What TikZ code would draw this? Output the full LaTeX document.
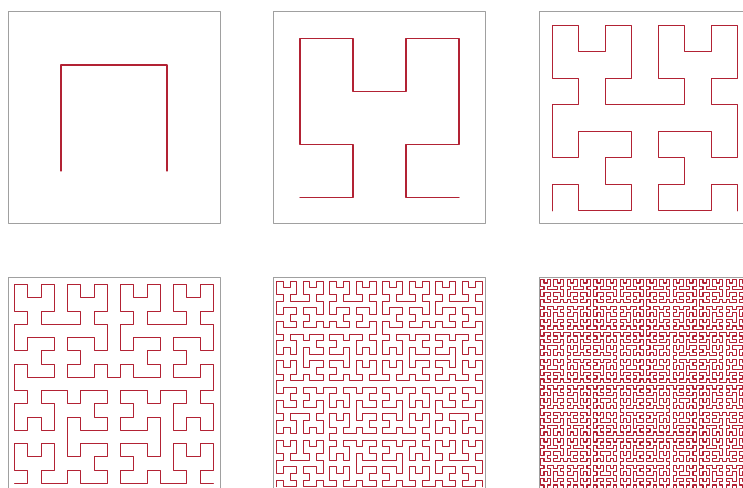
\documentclass[tikz,border=0pt]{standalone}
\usetikzlibrary{lindenmayersystems}
\definecolor{curvered}{RGB}{178,34,52}
\definecolor{framegray}{RGB}{160,160,160}
\pgfdeclarelindenmayersystem{Hilbert}{
	\rule{A -> +BF-AFA-FB+}
	\rule{B -> -AF+BFB+FA-}
}
\begin{document}
\begin{tikzpicture}[x=1pt,y=1pt, line join=round, line cap=round,
	frame/.style={draw=framegray, line width=1pt},
	hilbert/.style={color=curvered, line width=1.1pt}]
	\clip (0,0) rectangle (743,487);
	\foreach \n/\bx/\by in {1/8/263, 2/273.5/263, 3/539/263, 4/8/-3, 5/273.5/-3, 6/539/-3}{
		\pgfmathsetmacro\c{212/2^\n}
		\draw[frame] (\bx,\by) rectangle ++(212,212);
		\draw[hilbert, shift={(\bx+\c/2, \by+\c/2)},
			l-system={Hilbert, axiom=A, order=\n, step=\c pt, angle=90}]
			lindenmayer system;
	}
\end{tikzpicture}
\end{document}
